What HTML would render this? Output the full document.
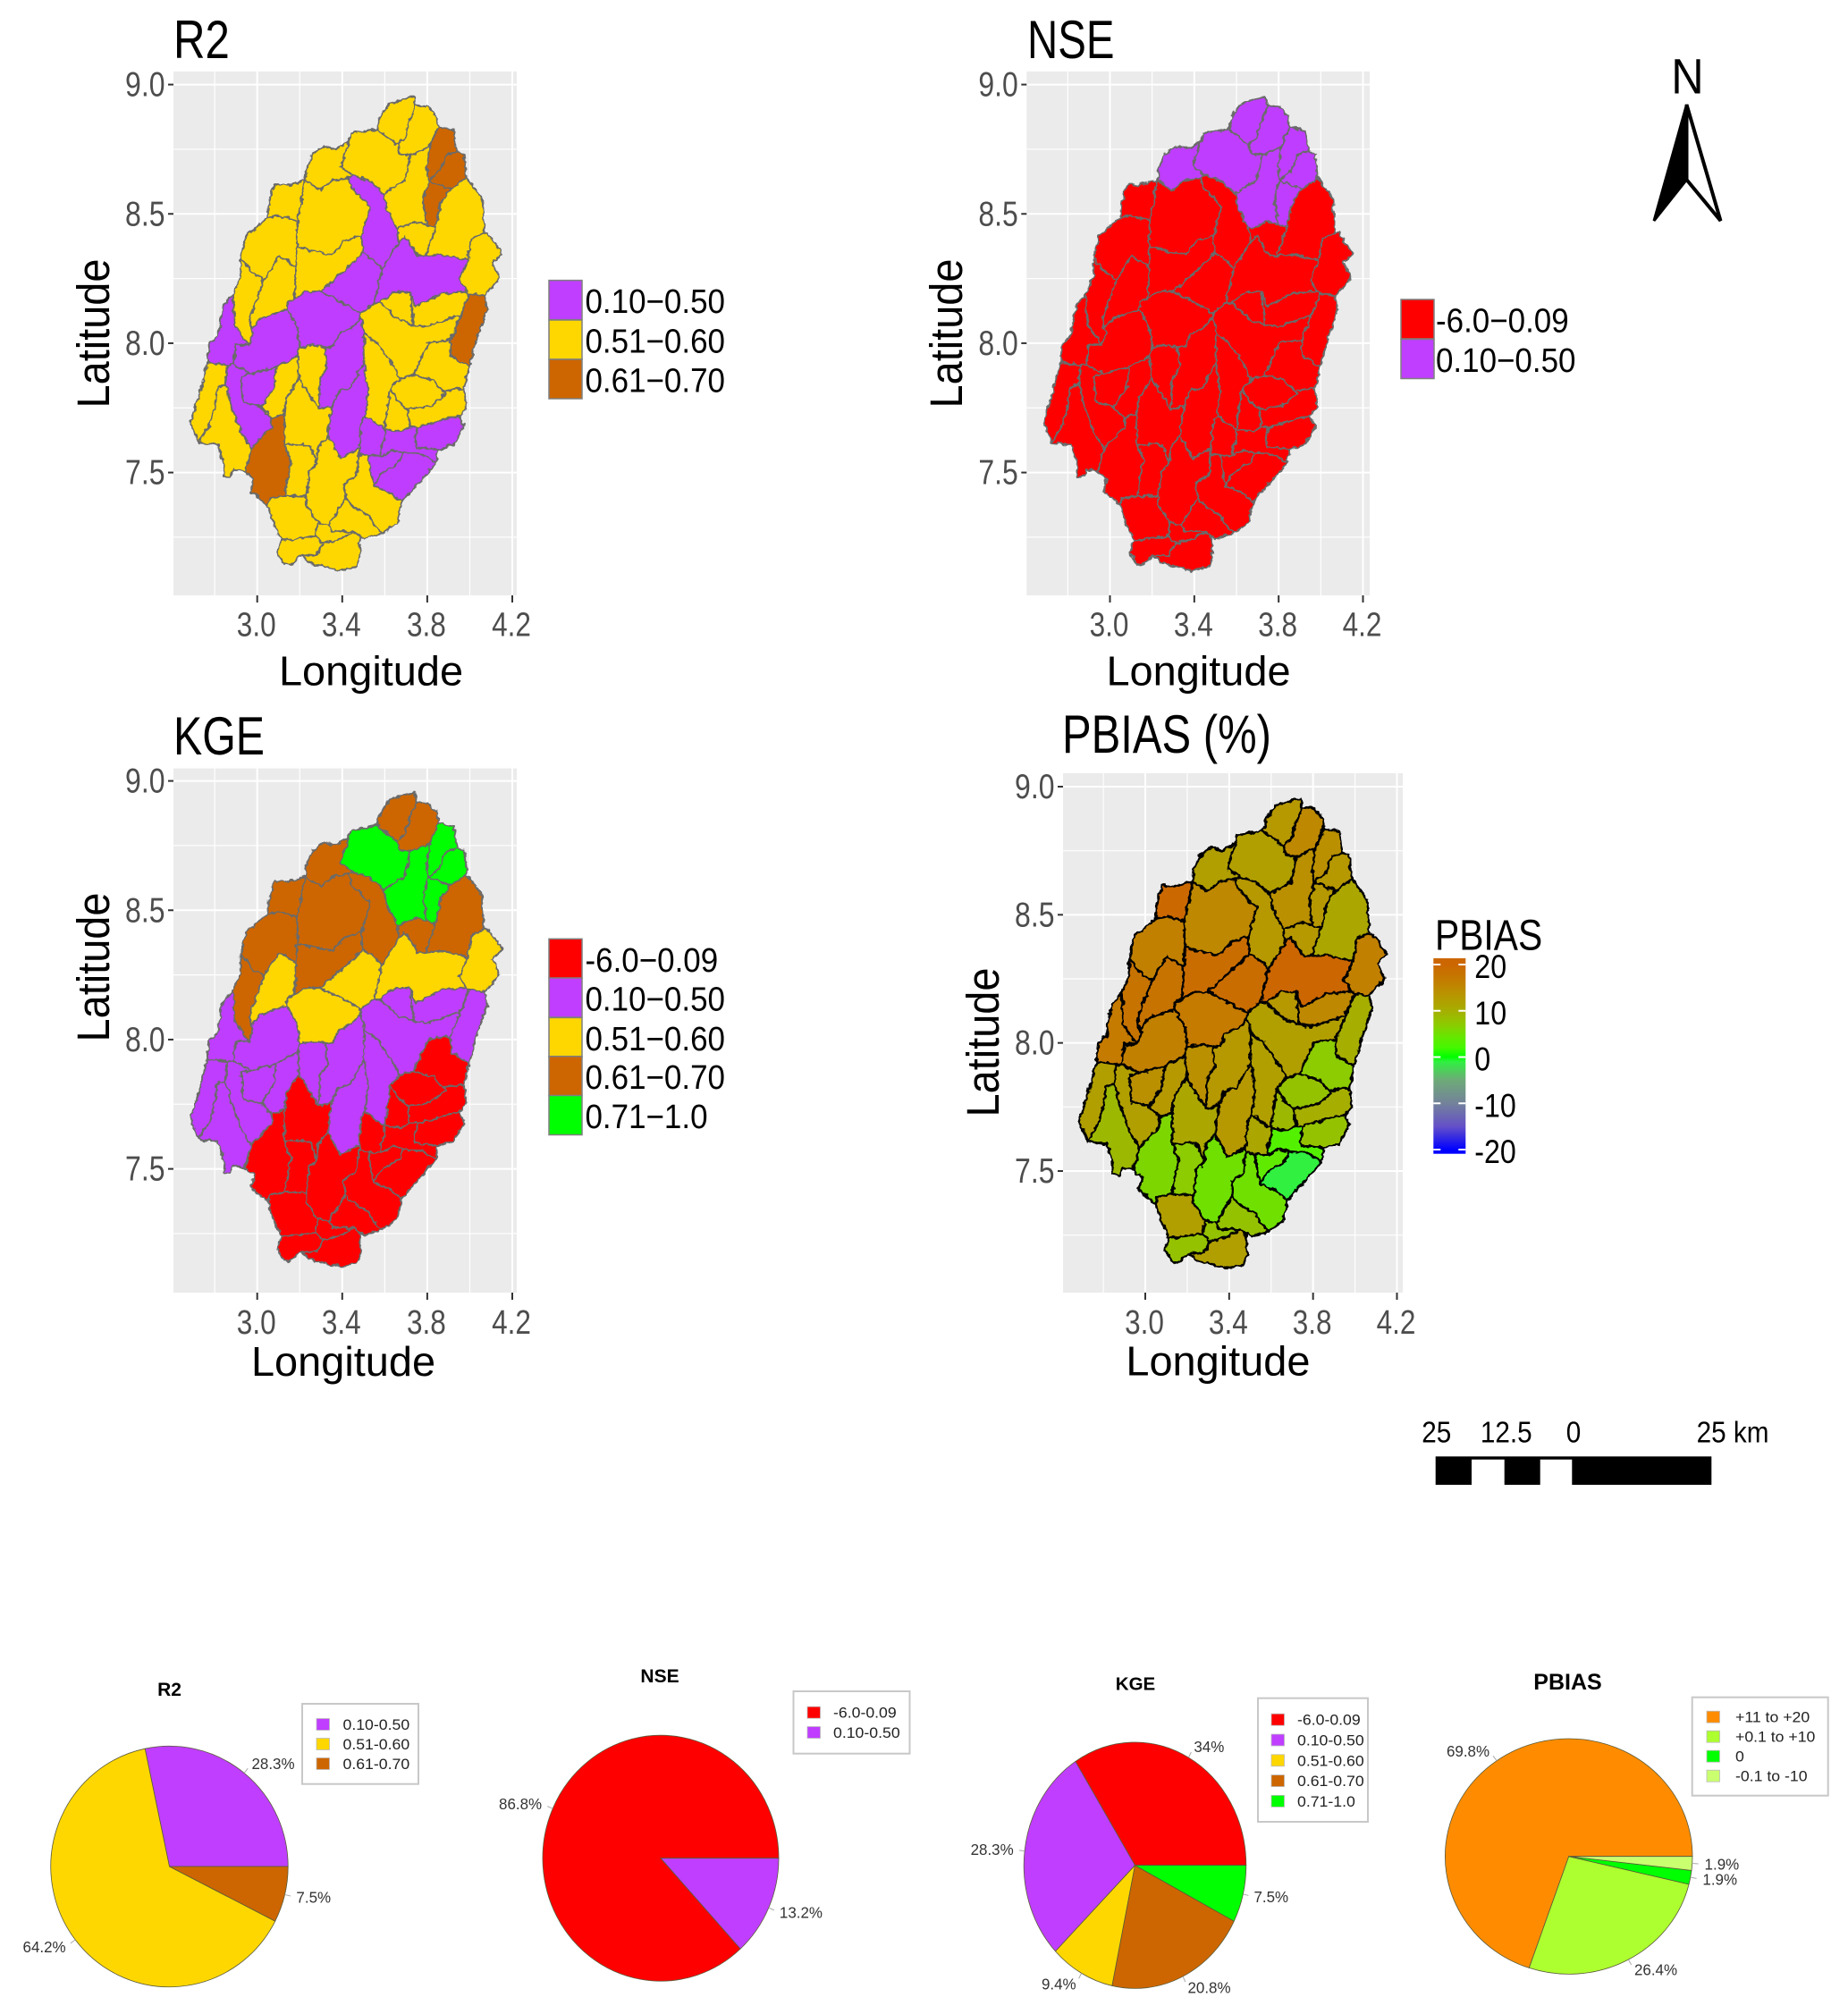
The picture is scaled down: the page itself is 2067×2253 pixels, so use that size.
<!DOCTYPE html>
<html lang="en">
<head>
<meta charset="utf-8">
<title>Subbasin model performance maps and pie charts</title>
<style>
html,body{margin:0;padding:0;background:#fff;}
svg{display:block;font-family:"Liberation Sans",sans-serif;}
</style>
</head>
<body>
<svg id="figure" width="2067" height="2253" viewBox="0 0 2067 2253">
  <defs>
    <filter id="crinkle" x="-5%" y="-5%" width="110%" height="110%">
      <feTurbulence type="fractalNoise" baseFrequency="0.16" numOctaves="2" seed="4" result="n"/>
      <feDisplacementMap in="SourceGraphic" in2="n" scale="6" xChannelSelector="R" yChannelSelector="G"/>
    </filter>
    <linearGradient id="pbias-gradient" x1="0" y1="0" x2="0" y2="1"></linearGradient>
  </defs>
  <rect x="0" y="0" width="2067" height="2253" fill="#fff"/>

  <g>
    <text transform="translate(1887.5,104.5) scale(0.9,1)" text-anchor="middle" font-size="56" fill="#000">N</text>
    <polygon points="1886.5,117 1850,247 1886.5,201" fill="#000" stroke="#000" stroke-width="3"/>
    <polygon points="1886.5,117 1924.5,247 1886.5,201" fill="#fff" stroke="#000" stroke-width="4"/>
  </g>

  <g>
    <rect x="1605.7" y="1629.3" width="308.6" height="31.7" fill="#000"/>
    <rect x="1646" y="1632.7" width="36.7" height="28.3" fill="#fff"/>
    <rect x="1722.7" y="1632.7" width="35.6" height="28.3" fill="#fff"/>
    <text transform="translate(1606.7,1613.3) scale(0.9,1)" text-anchor="middle" font-size="33">25</text>
    <text transform="translate(1684.7,1613.3) scale(0.9,1)" text-anchor="middle" font-size="33">12.5</text>
    <text transform="translate(1760,1613.3) scale(0.9,1)" text-anchor="middle" font-size="33">0</text>
    <text transform="translate(1938,1613.3) scale(0.9,1)" text-anchor="middle" font-size="33">25 km</text>
  </g>
</svg>

<script>
/* ---------- shared axis data ---------- */
const lonTicks = [3.0, 3.4, 3.8, 4.2];
const lonMinorLines = [2.8, 3.2, 3.6, 4.0];
const latTicks = [9.0, 8.5, 8.0, 7.5];
const latMinorLines = [8.75, 8.25, 7.75, 7.25];

/* ---------- subbasin geography: junction nodes in [longitude, latitude] ---------- */
const basinNodes = {
1:[3.623,8.928],2:[3.739,8.955],3:[3.748,8.919],4:[3.804,8.914],5:[3.845,8.876],6:[3.852,8.837],7:[3.925,8.825],8:[3.941,8.742],9:[3.973,8.733],10:[3.985,8.639],
11:[4.057,8.561],12:[4.069,8.424],13:[4.081,8.429],14:[4.154,8.346],15:[4.106,8.312],16:[4.142,8.252],17:[4.069,8.183],18:[4.081,8.131],19:[4.033,8.020],20:[3.997,7.908],
21:[3.973,7.822],22:[3.985,7.753],23:[3.949,7.719],24:[3.973,7.679],25:[3.925,7.607],26:[3.852,7.590],27:[3.840,7.538],28:[3.780,7.478],29:[3.707,7.413],30:[3.678,7.384],
31:[3.659,7.306],32:[3.587,7.266],33:[3.507,7.244],34:[3.479,7.256],35:[3.466,7.134],36:[3.386,7.122],37:[3.245,7.151],38:[3.152,7.142],39:[3.128,7.146],40:[3.092,7.194],
41:[3.116,7.237],42:[3.080,7.297],43:[3.050,7.372],44:[2.971,7.426],45:[2.983,7.478],46:[2.942,7.504],48:[2.887,7.512],49:[2.874,7.483],50:[2.843,7.486],
51:[2.818,7.605],52:[2.725,7.615],53:[2.686,7.693],54:[2.718,7.779],55:[2.766,7.925],56:[2.773,7.994],57:[2.814,8.028],58:[2.838,8.140],59:[2.887,8.192],60:[2.923,8.260],
61:[2.923,8.329],62:[2.947,8.415],63:[3.048,8.484],64:[3.056,8.544],65:[3.080,8.613],66:[3.152,8.613],67:[3.225,8.630],68:[3.232,8.673],69:[3.261,8.733],70:[3.314,8.763],
71:[3.369,8.751],72:[3.430,8.780],73:[3.442,8.811],74:[3.562,8.828],75:[3.579,8.876],76:[3.719,8.862],77:[3.695,8.794],78:[3.659,8.768],79:[3.671,8.733],80:[3.719,8.725],
81:[3.811,8.759],82:[3.888,8.725],83:[3.859,8.665],84:[3.804,8.625],85:[3.797,8.682],86:[3.912,8.596],87:[3.864,8.544],88:[3.840,8.450],89:[3.797,8.458],90:[3.780,8.553],
91:[3.744,8.470],92:[3.659,8.441],93:[3.611,8.518],94:[3.594,8.579],95:[3.695,8.630],96:[3.526,8.630],97:[3.454,8.647],98:[3.393,8.682],99:[3.430,8.639],100:[3.357,8.630],
101:[3.297,8.591],102:[3.442,8.601],103:[3.531,8.527],104:[3.490,8.415],105:[3.418,8.398],106:[3.357,8.346],107:[3.321,8.346],108:[3.188,8.372],109:[3.200,8.518],110:[3.188,8.475],
111:[3.104,8.493],112:[3.497,8.350],113:[3.666,8.389],114:[3.604,8.312],115:[3.587,8.286],116:[3.562,8.312],117:[3.104,8.338],118:[3.183,8.295],119:[3.031,8.243],120:[2.971,8.278],
121:[3.176,8.174],122:[2.971,8.054],123:[2.964,8.097],124:[2.983,8.037],125:[2.959,7.994],126:[2.894,8.071],127:[3.430,8.295],128:[3.297,8.200],129:[3.550,8.157],130:[3.486,8.116],
131:[3.381,8.166],132:[3.695,8.415],133:[3.756,8.338],134:[3.864,8.343],135:[3.990,8.321],136:[3.949,8.243],137:[3.985,8.200],138:[3.864,8.192],139:[3.744,8.140],140:[3.719,8.200],
141:[3.647,8.200],142:[3.792,8.338],143:[4.009,8.407],144:[3.997,8.192],145:[3.973,8.140],146:[3.908,8.011],147:[3.912,7.951],148:[3.575,8.157],149:[3.736,8.071],150:[3.671,8.088],
152:[3.949,8.106],153:[3.792,8.063],154:[3.485,8.097],155:[3.804,8.002],156:[3.735,7.878],157:[3.671,7.861],158:[3.565,8.000],159:[3.876,7.813],160:[3.828,7.856],
161:[3.925,7.822],162:[3.888,7.805],163:[3.816,7.758],164:[3.707,7.744],165:[3.659,7.779],166:[3.626,7.826],167:[3.756,7.676],168:[3.719,7.676],169:[3.502,8.037],170:[3.599,7.667],
171:[3.507,7.719],172:[3.502,7.925],173:[3.683,7.658],174:[3.864,7.701],175:[3.908,7.713],176:[3.744,7.598],177:[3.739,7.633],178:[3.490,7.701],179:[3.635,7.587],180:[3.490,7.572],
181:[3.685,7.576],182:[3.579,7.494],183:[3.548,7.448],184:[3.522,7.564],185:[3.478,7.564],186:[3.465,7.489],187:[3.415,7.401],188:[3.529,7.332],189:[3.546,7.297],190:[3.454,7.271],
191:[3.351,7.273],192:[3.393,7.555],194:[3.280,7.535],195:[3.244,7.504],196:[3.230,7.372],197:[3.285,7.306],199:[3.333,7.641],200:[3.345,7.727],
201:[3.436,7.826],203:[3.497,8.071],204:[3.290,7.744],205:[3.321,7.985],206:[3.380,8.035],207:[3.443,8.058],208:[3.261,7.994],209:[3.200,7.985],210:[3.188,8.063],
211:[3.140,8.157],212:[3.237,8.200],213:[3.019,8.097],214:[3.140,8.131],215:[3.092,7.908],216:[2.971,7.882],217:[2.887,7.916],218:[2.899,7.994],219:[2.923,7.873],220:[3.080,7.830],
221:[3.019,7.753],222:[2.935,7.770],223:[3.068,7.676],224:[2.971,7.590],225:[2.923,7.658],226:[2.874,7.770],228:[3.188,7.951],229:[3.196,7.865],230:[3.128,7.727],
231:[3.068,7.710],233:[3.237,7.813],235:[3.128,7.607],236:[3.216,7.611],239:[3.128,7.409],240:[3.159,7.547],242:[2.862,7.916],243:[2.850,7.839],244:[2.814,7.830],245:[2.776,7.686],
246:[2.862,7.813],249:[3.273,7.254],250:[3.309,7.227],252:[3.600,7.628],253:[3.579,7.593],254:[3.586,7.564],255:[3.777,7.570],256:[3.621,7.425],257:[3.571,7.440],258:[3.671,7.541],
260:[3.536,7.494],262:[3.443,7.372],263:[3.408,7.459],264:[3.337,7.297],265:[3.479,7.593],266:[3.287,7.599],267:[3.252,7.599],269:[3.230,7.407],270:[2.847,7.523],271:[2.797,7.744],
272:[3.060,7.401],275:[3.380,7.239],276:[3.487,7.175],277:[3.209,7.180],278:[3.280,7.180],279:[3.636,7.919],280:[3.522,7.814],281:[3.380,7.814],282:[3.351,7.756],283:[3.359,7.988],
284:[3.331,7.907],285:[3.295,7.860],286:[3.195,7.895],287:[3.138,7.791],288:[3.771,7.942]
};

/* subbasins, each a ring of junction node ids */
const basinRings = [
[75,1,2,3,76,77,78,74],
[3,4,5,6,81,80,79,78,77,76],
[6,7,8,82,83,84,85,81],
[82,8,9,10,86,84,83],
[84,86,87,88,89,90],
[80,81,85,84,90,89,91,92,93,94,95],
[73,74,78,79,80,95,94,96,97,98,72],
[69,70,71,72,98,97,99,100,101,67,68],
[97,96,94,93,92,113,114,115,116,112,104,103,102,99],
[67,101,100,99,102,103,104,105,106,107,108,110,109],
[65,66,67,109,110,111,63,64],
[63,111,110,108,118,117,119,120,61,62],
[117,118,121,211,214,213,122,123,119],
[61,120,119,123,122,124,125,126,59,60],
[108,107,106,105,104,112,127,128,212,121,118],
[112,116,115,129,130,131,128,127],
[113,132,133,142,134,135,136,137,138,139,140,141,148,129,115,114],
[92,91,89,88,142,133,132,113],
[86,10,11,12,143,135,134,142,88,87],
[143,12,13,14,15,16,17,144,137,136,135],
[144,17,18,19,20,147,146,145],
[148,141,140,149,150],
[139,138,137,144,145,152,153,149,140],
[154,130,129,148,150,149,153,152,145,146,155,288,156,157,279,158,169,203],
[155,146,147,20,21,161,159,160,156,288],
[157,156,160,159,162,163,164,165,166],
[162,159,161,21,22,23,175,174,167,168,164,163],
[169,158,279,157,166,170,171,280,172],
[166,165,164,168,173,170],
[167,174,175,23,24,25,26,176,177],
[170,173,168,167,177,176,26,27,255,181,179,254,253,252],
[181,255,27,28,29,30,256,257,183,182,258],
[184,254,179,181,258,182,183,260],
[185,180,184,260,183,257,256,30,31,32,189,188,262,187,263,186],
[187,262,188,189,32,33,34,190,191,264],
[199,192,265,185,186,263,187,264,197,196,269,195,194,266],
[172,280,171,178,265,192,199,200,282,281,201],
[154,203,169,172,201,281,282,204,285,284,205,283,206,207],
[209,208,205,284,285,204,233,229,286,228],
[211,212,128,131,130,154,207,206,283,205,208,209,210,214],
[122,213,214,210,209,228,215,216,217,218,125,124],
[59,126,125,218,217,242,55,56,57,58],
[219,216,215,220,221,222],
[242,217,216,219,222,221,231,223,224,225,226,246,243],
[215,228,286,229,287,230,231,221,220],
[229,233,204,282,200,199,266,194,267,236,235,230,287],
[230,235,240,239,272,43,44,45,46,224,223,231],
[235,236,267,194,195,269,239,240],
[55,242,243,244,271,245,52,53,54],
[244,243,246,226,225,224,46,48,49,50,270,51,52,245,271],
[43,272,239,269,196,197,249,41,42],
[41,249,250,278,277,38,39,40],
[190,34,276,35,36,37,277,278,250,275],
[178,171,170,252,253,254,184,180,185,265],
[197,264,191,190,275,250,249]
];

/* ---------- map metric data ---------- */
const r2Categories = ["0.10\u22120.50","0.51\u22120.60","0.61\u22120.70"];
const r2Colors = ["#BF3EFF","#FFD700","#CD6600"];
const r2Classes = [1,1,2,2,2,1,1,1,0,1, 1,1,1,1,1,0,0,1,1,1, 2,1,1,1,1,1,1,1,1,0, 0,0,0,1,1,1,0,0,1,0, 0,0,0,0,1,1,2,1,1,1, 1,1,1,0,1];

const nseCategories = ["-6.0\u22120.09","0.10\u22120.50"];
const nseColors = ["#FF0000","#BF3EFF"];
const nseClasses = [1,1,1,1,1,1,1,1,0,0, 0,0,0,0,0,0,0,0,0,0, 0,0,0,0,0,0,0,0,0,0, 0,0,0,0,0,0,0,0,0,0, 0,0,0,0,0,0,0,0,0,0, 0,0,0,0,0];

const kgeCategories = ["-6.0\u22120.09","0.10\u22120.50","0.51\u22120.60","0.61\u22120.70","0.71\u22121.0"];
const kgeColors = ["#FF0000","#BF3EFF","#FFD700","#CD6600","#00FF00"];
const kgeClasses = [3,3,4,4,4,4,4,3,3,3, 3,3,2,3,3,2,2,3,3,2, 1,1,1,1,0,0,0,1,0,0, 0,0,0,0,0,0,1,1,1,2, 1,1,1,1,1,0,0,0,1,1, 0,0,0,0,0];

const pbiasValues = [13,15,14,13,13,14,12,12,13,15, 19.5,16,18,18,19,19,20,13,11,16, 10,13,15,12,7,8,10,12,9,8, 3,-1,4,5,8,5,13,13,14,17, 16,17,14,12,13,11,6,7,12,9, 12,8,12,11,8];
const pbiasLegendTicks = [20,10,0,-10,-20];
const pbiasScaleValues = [20,16,13,10,7,4,2,0,-1,-5,-10,-15,-20];
const pbiasScaleColors = ["#CC6600","#C28000","#B69800","#A6AE00","#8CCC00","#60EA00","#44F800","#00FF00","#30F040","#6EAA78","#73829A","#6450C8","#0000FF"];

/* ---------- pie data ---------- */
const pieR2Values = [28.3,64.2,7.5];
const pieR2Labels = ["0.10-0.50","0.51-0.60","0.61-0.70"];
const pieR2Colors = ["#BF3EFF","#FFD700","#CD6600"];
const pieNseValues = [86.8,13.2];
const pieNseLabels = ["-6.0-0.09","0.10-0.50"];
const pieNseColors = ["#FF0000","#BF3EFF"];
const pieKgeValues = [34,28.3,9.4,20.8,7.5];
const pieKgeLabels = ["-6.0-0.09","0.10-0.50","0.51-0.60","0.61-0.70","0.71-1.0"];
const pieKgeColors = ["#FF0000","#BF3EFF","#FFD700","#CD6600","#00FF00"];
const piePbiasValues = [69.8,26.4,1.9,1.9];
const piePbiasLabels = ["+11 to +20","+0.1 to +10","0","-0.1 to -10"];
const piePbiasColors = ["#FF8C00","#ADFF2F","#00FF00","#CAFF70"];

/* ---------- helpers ---------- */
const NS = "http://www.w3.org/2000/svg";
const root = document.getElementById("figure");

function make(tag, parent, attrs) {
  const el = document.createElementNS(NS, tag);
  for (const k in attrs) el.setAttribute(k, attrs[k]);
  parent.appendChild(el);
  return el;
}
function addGroup(parent, name) {
  const g = make("g", parent, {});
  
  
  return g;
}
function addText(parent, name, str, x, y, size, opt) {
  const o = opt || {};
  const sx = o.sx || 1;
  const rot = o.rotate ? " rotate(" + o.rotate + ")" : "";
  const el = make("text", parent, {
    transform: "translate(" + x + "," + y + ")" + rot + " scale(" + sx + ",1)",
    "font-size": size,
    "text-anchor": o.anchor || "start",
    fill: o.fill || "#000",
    "font-weight": o.weight || "normal"
  });
  el.textContent = str;
  
  
  return el;
}
function hexToRgb(h) {
  return [parseInt(h.slice(1,3),16), parseInt(h.slice(3,5),16), parseInt(h.slice(5,7),16)];
}
function pbiasColor(v) {
  for (let i = 0; i < pbiasScaleValues.length - 1; i++) {
    const a = pbiasScaleValues[i], b = pbiasScaleValues[i+1];
    if (v <= a && v >= b) {
      const t = (a - v) / (a - b);
      const c0 = hexToRgb(pbiasScaleColors[i]), c1 = hexToRgb(pbiasScaleColors[i+1]);
      return "rgb(" + c0.map((c, j) => Math.round(c + (c1[j] - c) * t)).join(",") + ")";
    }
  }
  return v > 0 ? pbiasScaleColors[0] : pbiasScaleColors[pbiasScaleColors.length - 1];
}

/* ---------- map panels ---------- */
function drawMapPanel(p) {
  const g = addGroup(root, p.key + "-map-panel");
  const xScale = lon => p.x30 + (lon - 3.0) * (p.x42 - p.x30) / 1.2;
  const yScale = lat => p.y90 + (9.0 - lat) * (p.y75 - p.y90) / 1.5;

  const bg = make("rect", g, {x: p.left, y: p.top, width: p.right - p.left, height: p.bottom - p.top, fill: "#EBEBEB"});
  
  

  const grid = addGroup(g, p.key + "-gridlines");
  lonMinorLines.forEach(v => {
    const l = make("line", grid, {x1: xScale(v), x2: xScale(v), y1: p.top, y2: p.bottom, stroke: "#fff", "stroke-width": 1.2});
    
    
  });
  latMinorLines.forEach(v => {
    const l = make("line", grid, {x1: p.left, x2: p.right, y1: yScale(v), y2: yScale(v), stroke: "#fff", "stroke-width": 1.2});
    
    
  });
  lonTicks.forEach(v => {
    const l = make("line", grid, {x1: xScale(v), x2: xScale(v), y1: p.top, y2: p.bottom, stroke: "#fff", "stroke-width": 2});
    
    
  });
  latTicks.forEach(v => {
    const l = make("line", grid, {x1: p.left, x2: p.right, y1: yScale(v), y2: yScale(v), stroke: "#fff", "stroke-width": 2});
    
    
  });

  const basins = make("g", g, {filter: "url(#crinkle)"});
  
  
  basinRings.forEach((ring, i) => {
    const pts = ring.map(id => {
      const n = basinNodes[id];
      return xScale(n[0]).toFixed(1) + "," + yScale(n[1]).toFixed(1);
    }).join(" ");
    const poly = make("polygon", basins, {
      points: pts,
      fill: p.fillFor(i),
      stroke: p.stroke,
      "stroke-width": p.strokeWidth,
      "stroke-linejoin": "round"
    });
    
    
  });

  lonTicks.forEach(v => {
    const t = make("line", g, {x1: xScale(v), x2: xScale(v), y1: p.bottom, y2: p.bottom + 8, stroke: "#333", "stroke-width": 2});
    
    
    addText(g, "x-tick-label", v.toFixed(1), xScale(v) - 1, p.xTickBase, 38, {anchor: "middle", fill: "#4D4D4D", sx: 0.83});
  });
  latTicks.forEach(v => {
    const t = make("line", g, {x1: p.left - 6, x2: p.left, y1: yScale(v), y2: yScale(v), stroke: "#333", "stroke-width": 2});
    
    
    addText(g, "y-tick-label", v.toFixed(1), p.left - 9.5, yScale(v) + 13, 39, {anchor: "end", fill: "#4D4D4D", sx: 0.82});
  });

  addText(g, p.key + "-map-title", p.title, p.titleX, p.titleY, 60, {sx: p.titleSx});
  addText(g, "x-axis-title", "Longitude", p.xTitleX, p.xTitleY, 46, {anchor: "middle", sx: 1.02});
  addText(g, "y-axis-title", "Latitude", p.yTitleX, p.yTitleY, 51, {anchor: "middle", rotate: -90, sx: 0.92});
}

function drawClassLegend(key, categories, colors, x, w, tops, h, textX, sx) {
  const g = addGroup(root, key + "-legend");
  categories.forEach((c, i) => {
    const r = make("rect", g, {x: x, y: tops[i], width: w, height: h, fill: colors[i], stroke: "#7F7F7F", "stroke-width": 1.5});
    
    
    addText(g, "legend-label", c, textX, tops[i] + h - 7.5, 38, {sx: sx});
  });
}

drawMapPanel({key: "r2", title: "R2", titleX: 194, titleY: 65, titleSx: 0.82,
  left: 194, right: 578, top: 80, bottom: 666, x30: 287.7, x42: 573, y90: 94.6, y75: 528.6,
  xTickBase: 711.7, xTitleX: 415, xTitleY: 766.7, yTitleX: 122, yTitleY: 373, stroke: "#6B6B6B", strokeWidth: 2,
  fillFor: i => r2Colors[r2Classes[i]]});
drawClassLegend("r2", r2Categories, r2Colors, 614, 37, [313.6, 358, 402], 44, 654.5, 0.92);

drawMapPanel({key: "nse", title: "NSE", titleX: 1149, titleY: 65, titleSx: 0.79,
  left: 1148.3, right: 1532, top: 80, bottom: 666, x30: 1241.5, x42: 1524.5, y90: 94.6, y75: 528.6,
  xTickBase: 711.7, xTitleX: 1340.5, xTitleY: 766.7, yTitleX: 1076, yTitleY: 373, stroke: "#6B6B6B", strokeWidth: 2,
  fillFor: i => nseColors[nseClasses[i]]});
drawClassLegend("nse", nseCategories, nseColors, 1567, 37, [335, 379.5], 44, 1606, 0.92);

drawMapPanel({key: "kge", title: "KGE", titleX: 194, titleY: 844, titleSx: 0.805,
  left: 194, right: 578, top: 859.6, bottom: 1446, x30: 287.7, x42: 573, y90: 873.6, y75: 1307.6,
  xTickBase: 1491.8, xTitleX: 384, xTitleY: 1539, yTitleX: 122, yTitleY: 1082, stroke: "#6B6B6B", strokeWidth: 2,
  fillFor: i => kgeColors[kgeClasses[i]]});
drawClassLegend("kge", kgeCategories, kgeColors, 614, 37, [1050.3, 1094, 1138.4, 1181.7, 1225.5], 44, 654.5, 0.92);

drawMapPanel({key: "pbias", title: "PBIAS (%)", titleX: 1188, titleY: 842, titleSx: 0.816,
  left: 1189, right: 1569, top: 865, bottom: 1446, x30: 1281, x42: 1562.5, y90: 880, y75: 1310,
  xTickBase: 1492, xTitleX: 1362.4, xTitleY: 1538.3, yTitleX: 1117, yTitleY: 1166, stroke: "#000", strokeWidth: 2.6,
  fillFor: i => pbiasColor(pbiasValues[i])});

/* ---------- PBIAS colour bar ---------- */
(function () {
  const barTop = 1072, barBottom = 1290.7, barX = 1603.3, barW = 36;
  const tick20 = 1079, tickMinus20 = 1286;
  const barY = v => tick20 + (20 - v) * (tickMinus20 - tick20) / 40;
  const grad = document.getElementById("pbias-gradient");
  pbiasScaleValues.forEach((v, i) => {
    make("stop", grad, {offset: (barY(v) - barTop) / (barBottom - barTop), "stop-color": pbiasScaleColors[i]});
  });
  const g = addGroup(root, "pbias-legend");
  addText(g, "pbias-legend-title", "PBIAS", 1605, 1062.7, 48, {sx: 0.85});
  const bar = make("rect", g, {x: barX, y: barTop, width: barW, height: barBottom - barTop, fill: "url(#pbias-gradient)"});
  
  
  pbiasLegendTicks.forEach(v => {
    const y = barY(v);
    const a = make("line", g, {x1: barX, x2: barX + 8, y1: y, y2: y, stroke: "#fff", "stroke-width": 2});
    
    
    const b = make("line", g, {x1: barX + barW - 8, x2: barX + barW, y1: y, y2: y, stroke: "#fff", "stroke-width": 2});
    
    
    addText(g, "colorbar-label", String(v), 1649.3, y + 15, 37, {sx: 0.87});
  });
})();

/* ---------- pies ---------- */
function drawPie(p) {
  const g = addGroup(root, p.key + "-pie-chart");
  const total = p.values.reduce((a, b) => a + b, 0);
  const point = (ang, k) => [p.cx + p.rx * k * Math.cos(ang), p.cy - p.ry * k * Math.sin(ang)];
  let a0 = 0;
  p.values.forEach((v, i) => {
    const a1 = a0 + v / total * 2 * Math.PI;
    const s = point(a0, 1), e = point(a1, 1);
    const large = a1 - a0 > Math.PI ? 1 : 0;
    const path = make("path", g, {
      d: "M" + p.cx + "," + p.cy + " L" + s[0].toFixed(2) + "," + s[1].toFixed(2) +
         " A" + p.rx + "," + p.ry + " 0 " + large + " 0 " + e[0].toFixed(2) + "," + e[1].toFixed(2) + " Z",
      fill: p.colors[i], stroke: "#5a5a3a", "stroke-width": 0.8
    });
    
    
    const mid = (a0 + a1) / 2;
    const l0 = point(mid, 1), l1 = point(mid, 1.05), lp = point(mid, 1.1);
    const leader = make("line", g, {x1: l0[0], y1: l0[1], x2: l1[0], y2: l1[1], stroke: "#aaa", "stroke-width": 1});
    
    
    addText(g, "pie-percent-label", v + "%", lp[0], lp[1] + 6, 17.5, {anchor: Math.cos(mid) >= 0 ? "start" : "end", fill: "#333", sx: 0.97});
    a0 = a1;
  });
  addText(g, p.key + "-pie-title", p.title, p.titleX, p.titleY, p.titleSize, {anchor: "middle", weight: "bold"});

  const box = make("rect", g, {x: p.boxX, y: p.boxY, width: p.boxW, height: p.boxH, fill: "#fff", stroke: "#C8C8C8", "stroke-width": 2});
  
  
  p.labels.forEach((lab, i) => {
    const cy = p.rowStart + i * p.rowStep;
    const sw = make("rect", g, {x: p.swatchX, y: cy - 6.5, width: 14.5, height: 13, fill: p.colors[i], stroke: "#bbb", "stroke-width": 0.8});
    
    
    addText(g, "pie-legend-label", lab, p.textX, cy + 6, 17, {sx: 1.04, fill: "#222"});
  });
}

drawPie({key: "r2", title: "R2", titleX: 189.5, titleY: 1897, titleSize: 21,
  cx: 189.5, cy: 2088, rx: 132.7, ry: 134.7, values: pieR2Values, labels: pieR2Labels, colors: pieR2Colors,
  boxX: 338, boxY: 1906, boxW: 130, boxH: 89.7, swatchX: 354, textX: 383.5, rowStart: 1929, rowStep: 22});
drawPie({key: "nse", title: "NSE", titleX: 738, titleY: 1882, titleSize: 21,
  cx: 739, cy: 2078.7, rx: 132, ry: 137.5, values: pieNseValues, labels: pieNseLabels, colors: pieNseColors,
  boxX: 887.5, boxY: 1892, boxW: 130, boxH: 69.7, swatchX: 903, textX: 932, rowStart: 1915.7, rowStep: 22.3});
drawPie({key: "kge", title: "KGE", titleX: 1270, titleY: 1890.7, titleSize: 20.5,
  cx: 1269.5, cy: 2086.7, rx: 124.3, ry: 137.7, values: pieKgeValues, labels: pieKgeLabels, colors: pieKgeColors,
  boxX: 1407, boxY: 1899.7, boxW: 123, boxH: 138.3, swatchX: 1422, textX: 1451, rowStart: 1923.7, rowStep: 22.8});
drawPie({key: "pbias", title: "PBIAS", titleX: 1753.5, titleY: 1890, titleSize: 25,
  cx: 1754.7, cy: 2076.7, rx: 138.3, ry: 131.7, values: piePbiasValues, labels: piePbiasLabels, colors: piePbiasColors,
  boxX: 1892.7, boxY: 1898.7, boxW: 152, boxH: 110, swatchX: 1909, textX: 1941, rowStart: 1920.7, rowStep: 22});
</script>
</body>
</html>
